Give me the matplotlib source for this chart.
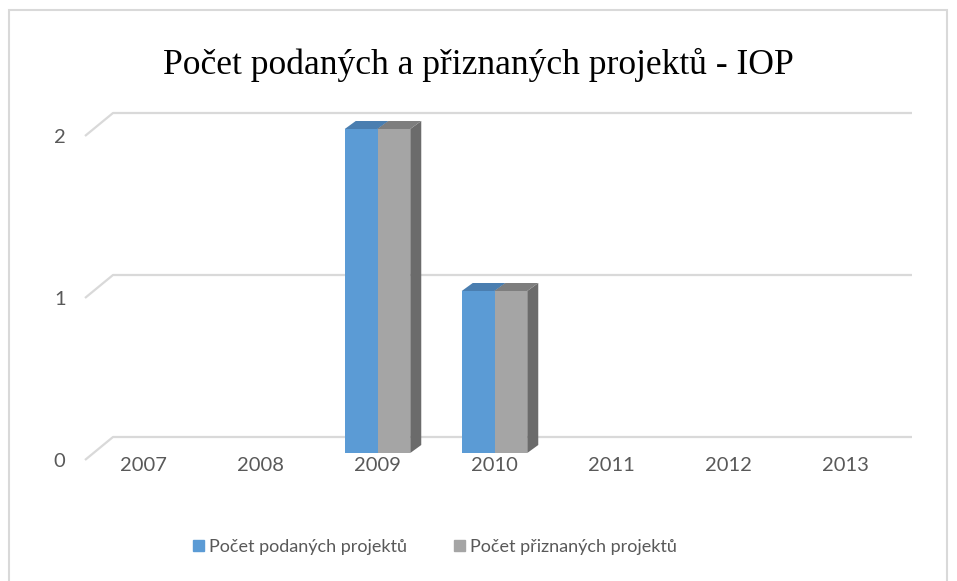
import matplotlib.pyplot as plt
import matplotlib.transforms as mtransforms
from matplotlib.patches import Polygon, Rectangle

years = ["2007", "2008", "2009", "2010", "2011", "2012", "2013"]
podane = [0, 0, 2, 1, 0, 0, 0]
priznane = [0, 0, 2, 1, 0, 0, 0]
series_names = ["Počet podaných projektů", "Počet přiznaných projektů"]
title = "Počet podaných a přiznaných projektů - IOP"

W, H = 957, 581
DPI = 100
px_x = 1 / 117.0   # data units per pixel (x)
px_y = 1 / 162.0   # data units per pixel (y)

front_colors = ["#5B9BD5", "#A5A5A5"]
top_colors = ["#4A7EB0", "#7E7E7E"]
side_colors = ["#3F6C97", "#6B6B6B"]
grid_color = "#D9D9D9"
text_color = "#595959"

fig = plt.figure(figsize=(W / DPI, H / DPI), dpi=DPI)
ax = fig.add_axes([85 / W, (H - 453) / H, (904 - 85) / W, 324 / H])
ax.set_xlim(-0.5, len(years) - 0.5)
ax.set_ylim(0, 2)
for s in ax.spines.values():
    s.set_visible(False)

# back-wall gridlines with a slanted floor/side segment
x_right = (912 - 85) * px_x - 0.5
for v in [0, 1, 2]:
    x0, y0 = -0.5, v - 7 * px_y
    x1, y1 = -0.5 + 28 * px_x, v + 16 * px_y
    ax.plot([x0, x1, x_right], [y0, y1, y1], color=grid_color, lw=1.6,
            clip_on=False, zorder=0, solid_capstyle="butt")

# 3D-look bars
width = 0.28
dx, dy = 11 * px_x, 8 * px_y
for i, vals in enumerate([podane, priznane]):
    offset = -width / 2 if i == 0 else width / 2
    for j, v in enumerate(vals):
        if v == 0:
            continue
        xl = j + offset - width / 2
        xr = xl + width
        ax.bar(xl, v, width=width, align="edge", color=front_colors[i],
               zorder=3 + i, clip_on=False)
        top = Polygon([(xl, v), (xr, v), (xr + dx, v + dy), (xl + dx, v + dy)],
                      closed=True, facecolor=top_colors[i], edgecolor="none",
                      zorder=3 + i, clip_on=False)
        side = Polygon([(xr, 0), (xr + dx, dy), (xr + dx, v + dy), (xr, v)],
                       closed=True, facecolor=side_colors[i], edgecolor="none",
                       zorder=2 + i, clip_on=False)
        ax.add_patch(side)
        ax.add_patch(top)

font = "Lato"
ax.set_xticks(range(len(years)))
ax.set_xticklabels(years, fontsize=14.5, color=text_color, family=font)
ax.set_yticks([0, 1, 2])
ax.set_yticklabels(["0", "1", "2"], fontsize=14.5, color=text_color, family=font)
ax.tick_params(axis="both", length=0)
ax.tick_params(axis="x", pad=3)
ax.tick_params(axis="y", pad=14)
shift = mtransforms.ScaledTranslation(0, -7 / DPI, fig.dpi_scale_trans)
for lbl in ax.get_yticklabels():
    lbl.set_transform(lbl.get_transform() + shift)

fig.text(478 / W, 1 - 65 / H, title, ha="center", va="center",
         fontsize=25.6, family="Liberation Serif", color="black")

handles = [Rectangle((0, 0), 1, 1, color=c) for c in front_colors]
leg = fig.legend(handles, series_names, loc="center",
                 bbox_to_anchor=(435 / W, 1 - 547 / H), ncol=2, frameon=False,
                 handlelength=0.6, handleheight=0.6, handletextpad=0.3,
                 columnspacing=2.6, prop={"family": font, "size": 13})
for t in leg.get_texts():
    t.set_color(text_color)

fig.patches.append(Rectangle((9 / W, -0.05), (947 - 9) / W, (H - 10) / H + 0.05,
                             transform=fig.transFigure, fill=False,
                             edgecolor="#D9D9D9", lw=1.5, zorder=-1))

fig.savefig("out.png", dpi=DPI)
